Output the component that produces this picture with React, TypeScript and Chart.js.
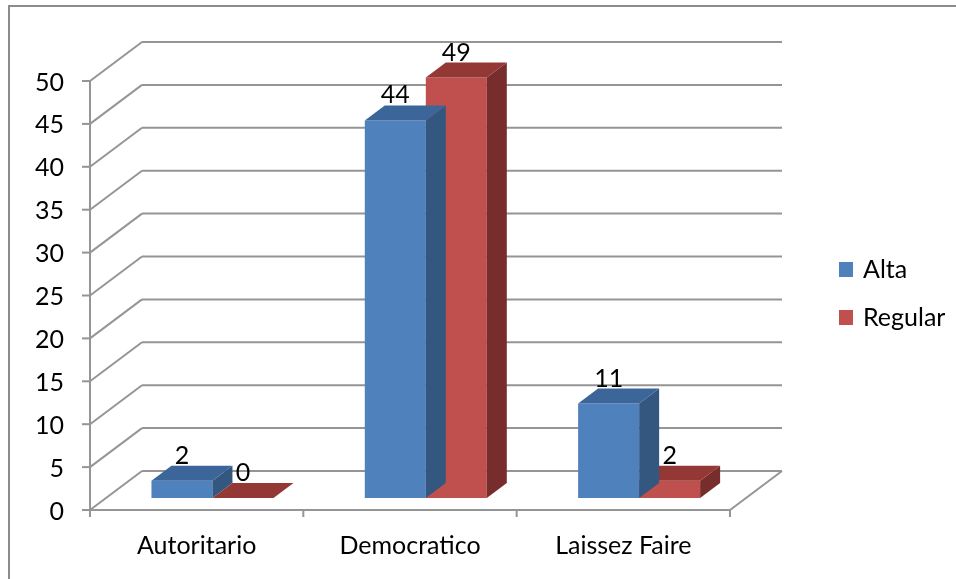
import React, { useEffect, useRef } from 'react';
import { Chart, registerables } from 'chart.js';

Chart.register(...registerables);

// ---- data ----
const categories = ['Autoritario', 'Democratico', 'Laissez Faire'];
const seriesNames = ['Alta', 'Regular'];
const altaValues = [2, 44, 11];
const regularValues = [0, 49, 2];
const yMin = 0;
const yMax = 50;
const yStep = 5;

// ---- styles ----
const FONT_FAMILY = "Lato, 'Open Sans', sans-serif";
const FONT_SIZE = 25;
const TEXT_COLOR = '#000000';
const GRID_COLOR = '#959595';
const FRAME_COLOR = '#8c8c8c';
const seriesColors = [
  { front: '#4F81BD', top: '#3C659A', side: '#34577F' },
  { front: '#C0504D', top: '#943836', side: '#772D2B' },
];
// offsets relative to the bar front plane (the chart area)
const FRONT = { dx: -15.8, dy: 12 };
const BACK = { dx: 36.2, dy: -27 };
const BAR_DEPTH = { dx: 20, dy: -15 };

const threeDPlugin = {
  id: 'threeD',
  beforeDatasetsDraw(chart: any) {
    const { ctx, chartArea } = chart;
    const yScale = chart.scales.y;
    const xScale = chart.scales.x;
    ctx.save();
    // outer frame
    ctx.strokeStyle = FRAME_COLOR;
    ctx.lineWidth = 2;
    ctx.strokeRect(9, 6, 1200, 1200);

    ctx.strokeStyle = GRID_COLOR;
    ctx.lineWidth = 2;
    ctx.lineCap = 'butt';
    const frontLeft = chartArea.left + FRONT.dx;
    const frontRight = chartArea.right + FRONT.dx;
    const backLeft = chartArea.left + BACK.dx;
    const backRight = chartArea.right + BACK.dx;

    const ticks: number[] = [];
    for (let v = yMin; v <= yMax + 1e-9; v += yStep) ticks.push(v);

    ticks.forEach((v) => {
      const y = yScale.getPixelForValue(v);
      // back wall line
      ctx.beginPath();
      ctx.moveTo(backLeft, y + BACK.dy);
      ctx.lineTo(backRight, y + BACK.dy);
      ctx.stroke();
      // side wall diagonal
      ctx.beginPath();
      ctx.moveTo(frontLeft, y + FRONT.dy);
      ctx.lineTo(backLeft, y + BACK.dy);
      ctx.stroke();
      // tick mark
      ctx.beginPath();
      ctx.moveTo(frontLeft - 8, y + FRONT.dy);
      ctx.lineTo(frontLeft, y + FRONT.dy);
      ctx.stroke();
    });

    const y0 = yScale.getPixelForValue(yMin);
    const yTop = yScale.getPixelForValue(yMax);
    // front vertical axis
    ctx.beginPath();
    ctx.moveTo(frontLeft, y0 + FRONT.dy);
    ctx.lineTo(frontLeft, yTop + FRONT.dy);
    ctx.stroke();
    // floor front edge and right edge
    ctx.beginPath();
    ctx.moveTo(frontLeft, y0 + FRONT.dy);
    ctx.lineTo(frontRight, y0 + FRONT.dy);
    ctx.lineTo(backRight, y0 + BACK.dy);
    ctx.stroke();
    // category tick marks
    const n = categories.length;
    const bounds: number[] = [chartArea.left];
    for (let i = 0; i < n - 1; i++) {
      bounds.push((xScale.getPixelForValue(i) + xScale.getPixelForValue(i + 1)) / 2);
    }
    bounds.push(chartArea.right);
    bounds.forEach((bx) => {
      ctx.beginPath();
      ctx.moveTo(bx + FRONT.dx, y0 + FRONT.dy);
      ctx.lineTo(bx + FRONT.dx, y0 + FRONT.dy + 7);
      ctx.stroke();
    });

    // texts
    ctx.fillStyle = TEXT_COLOR;
    ctx.font = `${FONT_SIZE}px ${FONT_FAMILY}`;
    ctx.textAlign = 'right';
    ctx.textBaseline = 'alphabetic';
    ticks.forEach((v) => {
      const y = yScale.getPixelForValue(v) + FRONT.dy;
      ctx.fillText(String(v), frontLeft - 26, y + 9.5);
    });
    ctx.textAlign = 'center';
    categories.forEach((c, i) => {
      ctx.fillText(c, xScale.getPixelForValue(i) + FRONT.dx, 554);
    });
    ctx.restore();
  },
  afterDatasetDraw(chart: any, args: any) {
    const { ctx } = chart;
    const i = args.index;
    const meta = chart.getDatasetMeta(i);
    const col = seriesColors[i];
    ctx.save();
    meta.data.forEach((el: any) => {
      const { x, y, base, width } = el.getProps(['x', 'y', 'base', 'width'], true);
      const x0 = x - width / 2;
      const x1 = x + width / 2;
      // side face
      ctx.fillStyle = col.side;
      ctx.beginPath();
      ctx.moveTo(x1, y);
      ctx.lineTo(x1 + BAR_DEPTH.dx, y + BAR_DEPTH.dy);
      ctx.lineTo(x1 + BAR_DEPTH.dx, base + BAR_DEPTH.dy);
      ctx.lineTo(x1, base);
      ctx.closePath();
      ctx.fill();
      // top face
      ctx.fillStyle = col.top;
      ctx.beginPath();
      ctx.moveTo(x0, y);
      ctx.lineTo(x0 + BAR_DEPTH.dx, y + BAR_DEPTH.dy);
      ctx.lineTo(x1 + BAR_DEPTH.dx, y + BAR_DEPTH.dy);
      ctx.lineTo(x1, y);
      ctx.closePath();
      ctx.fill();
    });
    ctx.restore();
  },
  afterDatasetsDraw(chart: any) {
    const { ctx } = chart;
    ctx.save();
    ctx.fillStyle = TEXT_COLOR;
    ctx.font = `${FONT_SIZE}px ${FONT_FAMILY}`;
    ctx.textAlign = 'center';
    ctx.textBaseline = 'alphabetic';
    chart.data.datasets.forEach((ds: any, i: number) => {
      const meta = chart.getDatasetMeta(i);
      meta.data.forEach((el: any, j: number) => {
        const { x, y } = el.getProps(['x', 'y'], true);
        ctx.fillText(String(ds.data[j]), x, y + BAR_DEPTH.dy - 2);
      });
    });
    // legend
    ctx.textAlign = 'left';
    chart.data.datasets.forEach((ds: any, i: number) => {
      const top = 262 + i * 48;
      ctx.fillStyle = ds.backgroundColor;
      ctx.fillRect(839, top, 14, 15);
      ctx.fillStyle = TEXT_COLOR;
      ctx.fillText(ds.label, 863, top + 15.5);
    });
    ctx.restore();
  },
};

export default function App() {
  const canvasRef = useRef<HTMLCanvasElement | null>(null);
  useEffect(() => {
    const canvas = canvasRef.current;
    if (!canvas) return;
    const chart = new Chart(canvas, {
      type: 'bar',
      data: {
        labels: categories,
        datasets: [
          {
            label: seriesNames[0],
            data: altaValues,
            backgroundColor: seriesColors[0].front,
            borderWidth: 0,
            barPercentage: 1,
            categoryPercentage: 0.572,
          },
          {
            label: seriesNames[1],
            data: regularValues,
            backgroundColor: seriesColors[1].front,
            borderWidth: 0,
            barPercentage: 1,
            categoryPercentage: 0.572,
          },
        ],
      },
      options: {
        animation: false,
        responsive: false,
        devicePixelRatio: 1,
        layout: { padding: { left: 105.8, right: 210.2, top: 69, bottom: 81 } },
        plugins: {
          legend: { display: false },
          tooltip: { enabled: false },
          title: { display: false },
        },
        scales: {
          x: { display: false, grid: { display: false } },
          y: { display: false, min: yMin, max: yMax, grid: { display: false }, ticks: { stepSize: yStep } },
        },
      },
      plugins: [threeDPlugin],
    });
    return () => chart.destroy();
  }, []);

  return (
    <div style={{ position: 'fixed', left: 0, top: 0, width: 956, height: 579, overflow: 'hidden', background: '#fff' }}>
      <canvas ref={canvasRef} width={956} height={579} style={{ display: 'block' }} />
    </div>
  );
}
